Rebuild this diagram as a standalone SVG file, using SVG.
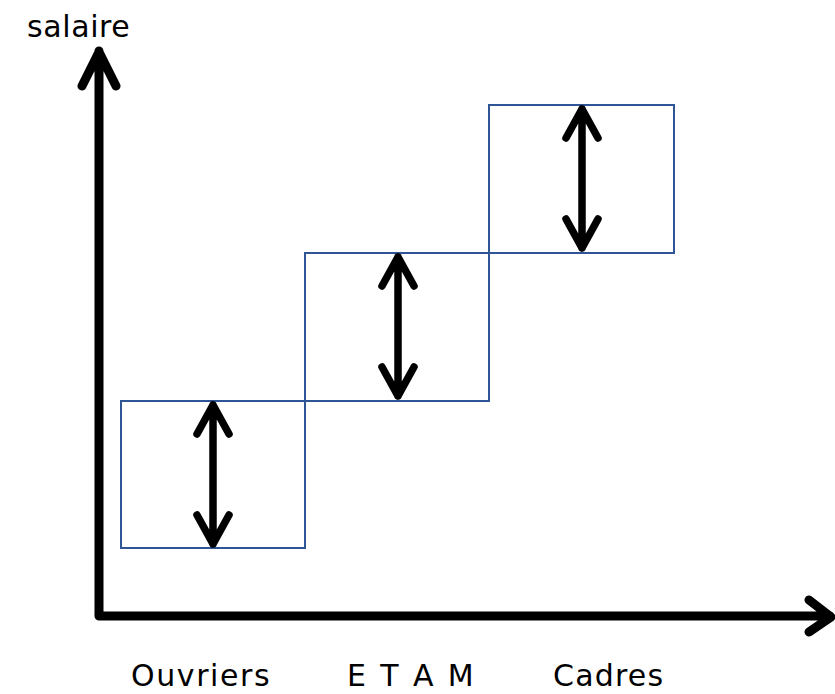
<svg xmlns="http://www.w3.org/2000/svg" width="835" height="694" viewBox="0 0 835 694">
<style>
.box{fill:none;stroke:#2F5597;stroke-width:2}
.axis{fill:none;stroke:#000;stroke-width:9;stroke-linecap:round;stroke-linejoin:round}
.dbl{fill:none;stroke:#000;stroke-width:7.5;stroke-linecap:round;stroke-linejoin:round}
.lbl{font-family:"DejaVu Sans",sans-serif;font-size:30px;fill:#000}
</style>
<rect width="835" height="694" fill="#fff"/>
<g id="box-ouvriers"><rect class="box" x="121" y="401" width="184" height="147"/></g>
<g id="box-etam"><rect class="box" x="305" y="253" width="184" height="148"/></g>
<g id="box-cadres"><rect class="box" x="489" y="105" width="185" height="148"/></g>
<g id="connectors">
<path class="axis" d="M99,614 V51 M82,86 L99,52 L116,86"/>
<path class="axis" d="M99,616 H830 M809,600 L831,617 L809,632"/>
<path class="dbl" d="M213,405 V544 M197,434 L213,405 L229,434 M197,515 L213,544 L229,515"/>
<path class="dbl" d="M398,257 V396 M382,286 L398,257 L414,286 M382,367 L398,396 L414,367"/>
<path class="dbl" d="M582,109 V248 M566,138 L582,109 L598,138 M566,219 L582,248 L598,219"/>
</g>
<g id="labels">
<text class="lbl" x="27" y="37" letter-spacing="0.6">salaire</text>
<text class="lbl" x="131" y="686" letter-spacing="1.6">Ouvriers</text>
<text class="lbl" x="347" y="686" letter-spacing="0.4" word-spacing="4">E T A M</text>
<text class="lbl" x="553" y="686" letter-spacing="1.2">Cadres</text>
</g>
</svg>
